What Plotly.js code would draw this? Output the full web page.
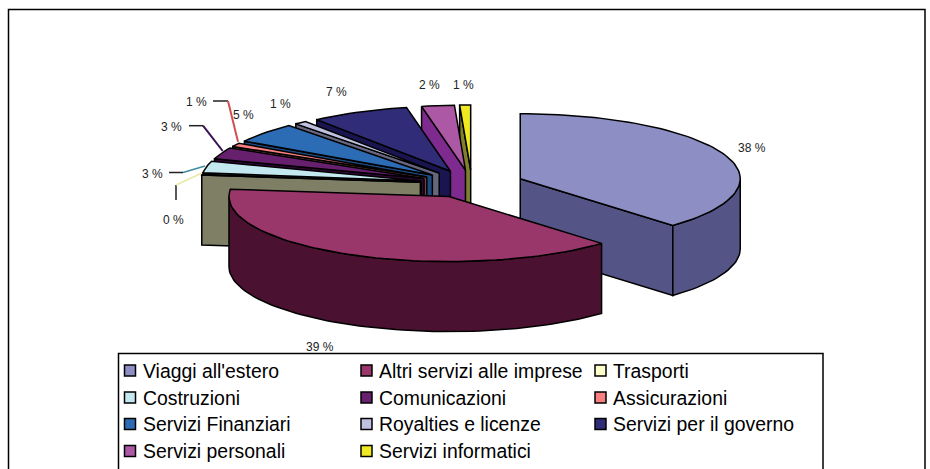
<!DOCTYPE html>
<html><head><meta charset="utf-8">
<script src="https://cdn.plot.ly/plotly-3.0.1.min.js"></script>
<style>html,body{margin:0;padding:0;background:#fff}#c{width:930px;height:469px}</style>
</head><body><div id="c"></div>
<script>
// ---- data ----
const categories = ["Viaggi all'estero","Altri servizi alle imprese","Trasporti","Costruzioni","Comunicazioni","Assicurazioni","Servizi Finanziari","Royalties e licenze","Servizi per il governo","Servizi personali","Servizi informatici"];
const values = [37.8,39,0.2,2.9,2.9,0.9,5,0.9,7.2,2.4,0.8];
const valueLabels = ["38 %","39 %","0 %","3 %","3 %","1 %","5 %","1 %","7 %","2 %","1 %"];
const topColors = ["#8c8ec4","#99366a","#ffffcc","#c4e8f0","#66206e","#f88080","#2b6cb4","#c0c0e0","#302c78","#ac58a4","#f0e820"];
const sideColors = ["#545486","#4a1230","#7f7f66","#607880","#33063a","#7c4040","#1e4a80","#66667f","#1a1450","#7e2a8e","#80802c"];

// ---- geometry of the 3D view (pixel scale of the axes) ----
const centre = {x:472, y:184}, radius = {x:220, y:65}, explode = {x:52, y:14}, depth = 70;
const labelX = [752,320,173,152,171,196,243,280,336,429,463];
const labelY = [148,347,220,174,127,102,115,104,92,85,85];
const legendColX = [130,366.5,600.5], legendRowY = [370.5,397.5,424,451];

const rad = d => d*Math.PI/180;
const total = values.reduce((a,b)=>a+b,0);
let run = 0;
const wedges = values.map((v,i)=>{
  const a = run/total*360; run += v; const b = run/total*360; const m = (a+b)/2;
  return {i,a,b,cx:centre.x+explode.x*Math.sin(rad(m)),cy:centre.y-explode.y*Math.cos(rad(m))};
});
const pt = (w,t,dz=0)=>[w.cx+radius.x*Math.sin(rad(t)), w.cy-radius.y*Math.cos(rad(t))+dz];
const arc = (w,a,b,dz=0)=>{const n=Math.max(2,Math.ceil(Math.abs(b-a)/2)),o=[];for(let k=0;k<=n;k++)o.push(pt(w,a+(b-a)*k/n,dz));return o;};
const poly = (pts,fill)=>({type:'scatter',mode:'lines',x:pts.map(p=>p[0]).concat(pts[0][0]),y:pts.map(p=>p[1]).concat(pts[0][1]),
  fill:'toself',fillcolor:fill,line:{color:'#000',width:1.5},hoverinfo:'skip',showlegend:false});

const traces = [];
[...wedges].sort((p,q)=>p.cy-q.cy).forEach(w=>{
  const side = sideColors[w.i], apex=[w.cx,w.cy], apexD=[w.cx,w.cy+depth];
  const face = t=>poly([apex,pt(w,t),pt(w,t,depth),apexD],side);
  if(Math.sin(rad(w.a))<-1e-6) traces.push(face(w.a));
  if(Math.sin(rad(w.b))>1e-6) traces.push(face(w.b));
  const s=Math.max(w.a,90), e=Math.min(w.b,270);
  if(e>s) traces.push(poly(arc(w,s,e).concat(arc(w,e,s,depth)),side));
  traces.push(poly([apex].concat(arc(w,w.a,w.b)),topColors[w.i]));
});

// legend swatches
const legX=[],legY=[];
categories.forEach((c,i)=>{legX.push(legendColX[i%3]);legY.push(legendRowY[Math.floor(i/3)]);});
traces.push({type:'scatter',mode:'markers',x:legX,y:legY,hoverinfo:'skip',showlegend:false,
  marker:{symbol:'square',size:11,color:topColors,line:{color:'#000',width:1.5}}});

const font = {family:'"Liberation Sans",Arial,sans-serif',color:'#000'};
const annotations = [];
valueLabels.forEach((t,i)=>annotations.push({x:labelX[i],y:labelY[i],xref:'x',yref:'y',text:t,showarrow:false,font:{...font,size:12,color:'#222'},xanchor:'center',yanchor:'middle'}));
categories.forEach((t,i)=>annotations.push({x:legX[i]+10.5,y:legY[i],xref:'x',yref:'y',text:t,showarrow:false,font:{...font,size:19.4},xanchor:'left',yanchor:'middle'}));

const line=(d,color,width)=>({type:'path',path:d,xref:'x',yref:'y',line:{color,width},layer:'above'});
const shapes=[
  {type:'rect',xref:'x',yref:'y',x0:8.5,y0:9.5,x1:925,y1:480,line:{color:'#000',width:1.5},fillcolor:'rgba(0,0,0,0)',layer:'below'},
  {type:'rect',xref:'x',yref:'y',x0:118.5,y0:353.5,x1:823,y1:480,line:{color:'#000',width:1.5},fillcolor:'rgba(0,0,0,0)',layer:'above'},
  line('M176,200 L176,185','#222',1.5),
  line('M176,185 L202,173','#e8e8a8',1.5),
  line('M169,172.5 L183,172.5','#222',1.5),
  line('M183,172.5 L205,166','#3f8fa0',1.5),
  line('M189,125.7 L203,125.7','#222',1.5),
  line('M203,125.7 L222.7,151','#3a1050',2),
  line('M213,101 L228,101','#222',1.5),
  line('M228,101 L238,141.7','#d05050',2)
];

Plotly.newPlot('c',traces,{
  width:930,height:469,margin:{l:0,r:0,t:0,b:0},paper_bgcolor:'#fff',plot_bgcolor:'#fff',showlegend:false,
  xaxis:{range:[0,930],visible:false,fixedrange:true},
  yaxis:{range:[469,0],visible:false,fixedrange:true},
  annotations,shapes
},{staticPlot:true,displayModeBar:false});
</script></body></html>
